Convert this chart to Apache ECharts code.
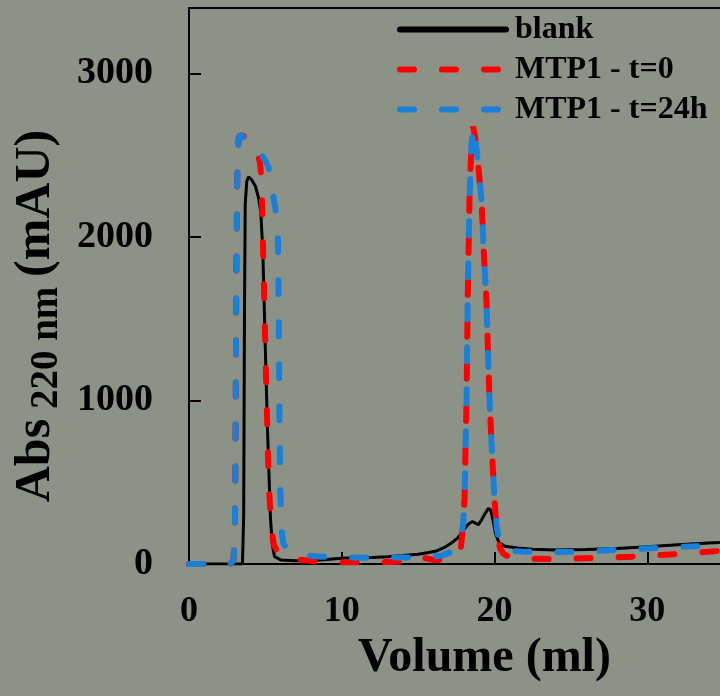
<!DOCTYPE html>
<html>
<head>
<meta charset="utf-8">
<script src="https://cdn.jsdelivr.net/npm/echarts@6/dist/echarts.min.js"></script>
<style>
html,body{margin:0;padding:0;background:#8d9286;}
#chart{width:720px;height:696px;}
</style>
</head>
<body>
<div id="chart"></div>
<script>
// ---- data (Volume ml, Abs mAU) ----
const seriesNames = ['blank', 'MTP1 - t=0', 'MTP1 - t=24h'];
const yTicks = [0, 1000, 2000, 3000];
const xTicks = [0, 10, 20, 30];

const blankX = [0,3.5,3.58,3.63,3.68,3.78,3.9,4.1,4.35,4.55,4.7,4.83,5.0,5.14,5.33,5.45,5.6,6.0,7,8,9,10,11,12,13,14,15,15.7,16.2,16.7,17.2,17.6,18.0,18.3,18.55,18.75,18.95,19.15,19.4,19.6,19.75,19.9,20.05,20.3,20.7,21.5,22.5,24,26,28,30,32,34,35.5];
const blankY = [0,0,300,1500,2200,2340,2368,2350,2310,2240,2150,1920,1306,818,287,120,45,25,20,22,28,35,38,40,45,52,60,70,80,100,130,160,210,245,260,250,240,270,310,340,330,270,190,130,108,98,90,85,88,95,105,117,128,135];

const t0X = [0,2.7,2.9,3.0,3.05,3.1,3.17,3.25,3.35,3.6,3.9,4.2,4.45,4.65,4.75,4.82,4.92,5.05,5.22,5.38,5.55,5.8,6.3,7,8,9,10,11,12,13,14,14.5,15,15.5,16,16.8,17.4,17.8,17.95,18.04,18.1,18.17,18.24,18.36,18.48,18.6,18.75,18.95,19.15,19.3,19.47,19.67,19.85,20.0,20.15,20.35,20.6,21,22,23.6,25,27,29,31,33,34.7,35.5];
const t0Y = [0,0,20,150,800,1800,2450,2600,2625,2615,2595,2570,2530,2450,2350,2050,1650,1110,494,226,120,70,45,30,18,12,10,10,10,12,15,40,45,35,25,25,45,100,250,400,700,1000,1600,2225,2550,2675,2600,2420,2225,1900,1613,1006,650,396,200,100,60,40,33,30,33,38,45,55,68,80,85];

const t24X = [0,2.7,2.9,3.0,3.05,3.1,3.17,3.25,3.35,3.7,4.2,4.6,4.9,5.2,5.46,5.7,5.82,5.88,5.92,5.97,6.08,6.2,6.5,6.9,7.5,8.5,10,12,14,15.5,16.5,17.2,17.6,17.8,17.95,18.04,18.1,18.17,18.24,18.36,18.48,18.6,18.75,18.95,19.15,19.3,19.47,19.67,19.85,20.0,20.15,20.35,20.6,21,22,23,25,27,29,31,33,34.7,35.5];
const t24Y = [0,0,20,150,800,1800,2450,2600,2625,2600,2570,2530,2480,2430,2280,2150,2000,1500,900,450,190,120,90,70,55,45,40,38,40,42,50,75,120,160,250,400,700,1000,1600,2225,2550,2675,2600,2420,2225,1900,1613,1006,650,396,220,125,90,80,75,73,75,82,90,100,108,116,120];

function pairs(xs, ys){ return xs.map((x,i)=>[x, ys[i]]); }

const FONT = '"Liberation Serif", "Times New Roman", serif';
const chart = echarts.init(document.getElementById('chart'), null, {renderer:'canvas'});
const dashed = (color) => ({color: color, width: 6, type: [14, 28], cap: 'round'});
const axisCommon = {
  axisLine: {show: true, onZero: false, lineStyle: {color: '#000', width: 2}},
  splitLine: {show: false}
};

chart.setOption({
  backgroundColor: '#8d9286',
  animation: false,
  grid: {left: 189, top: 8, right: 0, bottom: 132, show: false},
  legend: {
    orient: 'vertical', left: 392, top: 8, itemWidth: 106, itemHeight: 20, itemGap: 7,
    data: seriesNames,
    itemStyle: {opacity: 0},
    lineStyle: {width: 6, cap: 'round'},
    textStyle: {fontFamily: FONT, fontWeight: 'bold', fontSize: 32, lineHeight: 33, color: '#000', padding: [0,0,0,4]}
  },
  xAxis: [{
    type: 'value', min: 0, max: 34.76, interval: 10,
    ...axisCommon,
    axisTick: {show: true, inside: true, length: 12, lineStyle: {color: '#000', width: 2}},
    axisLabel: {margin: 30, fontFamily: FONT, fontWeight: 'bold', fontSize: 36, color: '#000', showMaxLabel: false,
      formatter: v => xTicks.indexOf(v) >= 0 ? String(v) : ''},
    name: 'Volume (ml)', nameLocation: 'middle', nameGap: 46,
    nameTextStyle: {fontFamily: FONT, fontWeight: 'bold', fontSize: 48, color: '#000', padding: [0,0,0,60]}
  }, {
    type: 'value', position: 'top', min: 0, max: 34.76,
    ...axisCommon,
    axisTick: {show: false}, axisLabel: {show: false}
  }],
  yAxis: {
    type: 'value', min: 0, max: 3400, interval: 1000,
    ...axisCommon,
    axisTick: {show: true, inside: true, length: 12, lineStyle: {color: '#000', width: 2}},
    axisLabel: {margin: 36, fontFamily: FONT, fontWeight: 'bold', fontSize: 38, color: '#000', showMaxLabel: false,
      formatter: v => yTicks.indexOf(v) >= 0 ? String(v) : ''},
    name: '{a|Abs}{s| 220 nm }{a|(mAU)}', nameLocation: 'middle', nameGap: 122,
    nameTextStyle: {
      padding: [0, 60, 0, 0],
      rich: {
        a: {fontFamily: FONT, fontWeight: 'bold', fontSize: 50, lineHeight: 60, color: '#000'},
        s: {fontFamily: FONT, fontWeight: 'bold', fontSize: 39, lineHeight: 44, verticalAlign: 'bottom', color: '#000'}
      }
    }
  },
  series: [
    {name: seriesNames[0], type: 'line', data: pairs(blankX, blankY), symbol: 'none', showSymbol: false,
     lineStyle: {color: '#000', width: 3}, itemStyle: {color: '#000'}, z: 2},
    {name: seriesNames[1], type: 'line', data: pairs(t0X, t0Y), symbol: 'none', showSymbol: false,
     lineStyle: dashed('#ff0000'), itemStyle: {color: '#ff0000'}, z: 3},
    {name: seriesNames[2], type: 'line', data: pairs(t24X, t24Y), symbol: 'none', showSymbol: false,
     lineStyle: dashed('#1a7fd6'), itemStyle: {color: '#1a7fd6'}, z: 4}
  ]
});
</script>
</body>
</html>
